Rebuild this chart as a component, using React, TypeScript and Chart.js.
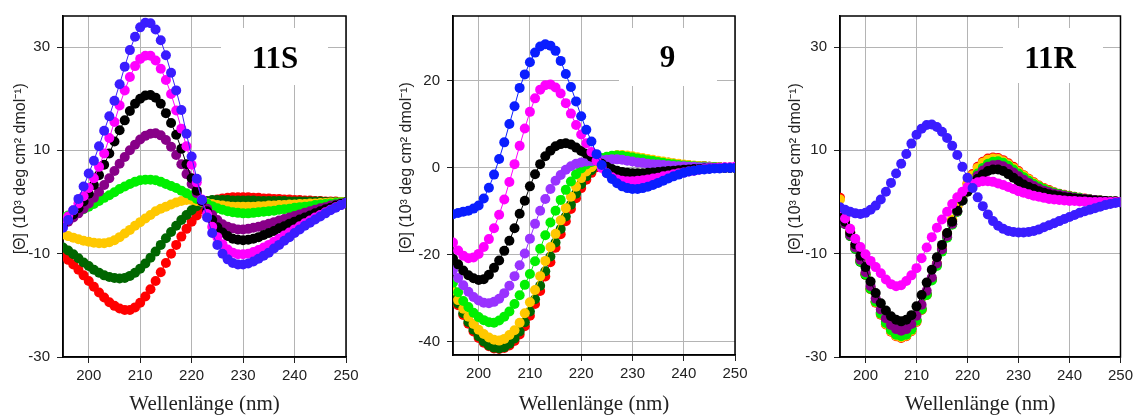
import React, { useEffect, useRef } from "react";
import { Chart, registerables } from "chart.js";

Chart.register(...registerables);

// ---------- data ----------
const wavelengths = [
  195, 196, 197, 198, 199, 200, 201, 202, 203, 204,
  205, 206, 207, 208, 209, 210, 211, 212, 213, 214,
  215, 216, 217, 218, 219, 220, 221, 222, 223, 224,
  225, 226, 227, 228, 229, 230, 231, 232, 233, 234,
  235, 236, 237, 238, 239, 240, 241, 242, 243, 244,
  245, 246, 247, 248, 249, 250,
];

const xTickValues = [200, 210, 220, 230, 240, 250];
const xTickLabels = ["200", "210", "220", "230", "240", "250"];
const yTickValues11S = [-30, -10, 10, 30];
const yTickLabels11S = ["-30", "-10", "10", "30"];
const yTickValues9 = [-40, -20, 0, 20];
const yTickLabels9 = ["-40", "-20", "0", "20"];
const yTickValues11R = [-30, -10, 10, 30];
const yTickLabels11R = ["-30", "-10", "10", "30"];

// Panel 11S
const red11S = [-10.4,-11.2,-12.1,-13.1,-14.2,-15.3,-16.4,-17.5,-18.5,-19.4,
  -20.1,-20.6,-20.9,-20.9,-20.4,-19.5,-18.3,-16.9,-15.3,-13.6,
  -11.8,-10.0,-8.3,-6.7,-5.2,-3.8,-2.6,-1.4,-0.4,0.2,
  0.5,0.7,0.8,0.9,0.9,0.9,0.9,0.8,0.8,0.7,
  0.7,0.6,0.6,0.5,0.5,0.4,0.4,0.3,0.3,0.2,
  0.2,0.1,0.1,0.1,0.0,0.0];
const darkGreen11S = [-8.8,-9.4,-10.1,-10.9,-11.7,-12.4,-13.1,-13.7,-14.2,-14.5,
  -14.7,-14.8,-14.7,-14.3,-13.7,-12.9,-11.9,-10.8,-9.6,-8.3,
  -7.0,-5.8,-4.6,-3.5,-2.5,-1.6,-0.8,-0.1,0.2,0.4,
  0.4,0.4,0.4,0.3,0.3,0.3,0.3,0.3,0.2,0.2,
  0.2,0.2,0.2,0.2,0.1,0.1,0.1,0.1,0.1,0.1,
  0.1,0.0,0.0,0.0,0.0,0.0];
const gold11S = [-6.3,-6.6,-6.9,-7.2,-7.5,-7.7,-7.9,-8.0,-8.0,-7.8,
  -7.4,-6.8,-6.1,-5.4,-4.6,-3.9,-3.2,-2.5,-1.8,-1.3,
  -0.9,-0.5,-0.1,0.2,0.4,0.4,0.2,0.0,-0.2,-0.4,
  -0.6,-0.7,-0.8,-0.9,-0.9,-0.9,-0.9,-0.9,-0.8,-0.8,
  -0.7,-0.7,-0.6,-0.6,-0.5,-0.5,-0.4,-0.4,-0.3,-0.3,
  -0.2,-0.2,-0.1,-0.1,0.0,0.0];
const green11S = [-3.0,-2.6,-2.2,-1.8,-1.4,-0.9,-0.4,0.2,0.8,1.3,
  1.9,2.5,3.0,3.5,3.9,4.2,4.3,4.3,4.2,3.9,
  3.5,3.1,2.7,2.2,1.7,1.2,0.6,0.1,-0.3,-0.8,
  -1.2,-1.5,-1.8,-2.0,-2.1,-2.2,-2.2,-2.1,-2.0,-1.9,
  -1.8,-1.7,-1.5,-1.4,-1.3,-1.1,-1.0,-0.9,-0.8,-0.6,
  -0.5,-0.4,-0.3,-0.2,-0.1,0.0];
const purple11S = [-4.5,-3.8,-3.0,-2.2,-1.3,-0.3,0.8,2.0,3.3,4.6,
  6.0,7.4,8.7,10.0,11.1,12.1,12.8,13.2,13.3,12.9,
  12.0,10.7,9.1,7.3,5.4,3.5,1.7,0.1,-1.3,-2.5,
  -3.5,-4.3,-4.8,-5.1,-5.3,-5.3,-5.2,-5.0,-4.8,-4.5,
  -4.2,-3.9,-3.6,-3.3,-3.0,-2.7,-2.4,-2.1,-1.8,-1.5,
  -1.2,-1.0,-0.7,-0.5,-0.3,-0.1];
const black11S = [-4.4,-3.4,-2.4,-1.2,0.1,1.6,3.3,5.2,7.2,9.4,
  11.7,13.9,15.8,17.6,19.0,20.0,20.6,20.7,20.2,19.0,
  17.2,15.3,13.0,10.3,7.3,4.6,2.2,0.2,-1.8,-3.5,
  -4.9,-5.9,-6.6,-7.1,-7.3,-7.4,-7.3,-7.1,-6.8,-6.4,
  -6.0,-5.6,-5.1,-4.7,-4.2,-3.8,-3.4,-3.0,-2.6,-2.2,
  -1.8,-1.4,-1.1,-0.7,-0.4,-0.1];
const magenta11S = [-3.8,-2.8,-1.6,-0.3,1.1,2.7,4.6,6.8,9.4,12.4,
  15.5,18.7,21.6,24.2,26.3,27.7,28.3,28.3,27.4,25.8,
  23.6,20.9,17.7,14.2,10.8,7.2,3.8,0.5,-2.3,-4.8,
  -6.8,-8.2,-9.2,-9.8,-10.1,-10.1,-10.0,-9.7,-9.3,-8.8,
  -8.3,-7.7,-7.1,-6.5,-5.9,-5.3,-4.7,-4.1,-3.6,-3.0,
  -2.5,-2.0,-1.5,-1.0,-0.6,-0.2];
const blue11S = [-5.0,-3.5,-1.6,0.6,3.0,5.5,8.0,10.8,13.8,16.6,
  19.6,22.8,26.2,29.4,32.0,33.8,34.7,34.6,33.4,31.3,
  28.4,25.0,21.6,17.8,13.2,8.8,4.5,0.4,-3.0,-6.0,
  -8.3,-10.0,-11.1,-11.8,-12.1,-12.1,-11.9,-11.5,-11.0,-10.4,
  -9.8,-9.0,-8.3,-7.5,-6.8,-6.0,-5.3,-4.6,-4.0,-3.4,
  -2.8,-2.2,-1.6,-1.1,-0.6,-0.2];

// Panel 9
const red9 = [-29.3,-31.6,-33.8,-35.8,-37.6,-39.1,-40.2,-41.0,-41.5,-41.6,
  -41.4,-40.8,-39.8,-38.3,-36.4,-34.0,-31.3,-28.3,-25.0,-21.7,
  -18.4,-15.3,-12.3,-9.5,-7.0,-4.7,-2.8,-1.2,0.1,1.0,
  1.7,2.1,2.4,2.5,2.4,2.3,2.1,1.9,1.8,1.6,
  1.4,1.2,1.1,0.9,0.8,0.6,0.5,0.4,0.3,0.3,
  0.2,0.1,0.1,0.0,0.0,0.0];
const darkGreen9 = [-28.9,-31.2,-33.4,-35.4,-37.2,-38.7,-39.9,-40.8,-41.3,-41.5,
  -41.2,-40.4,-39.2,-37.6,-35.5,-33.0,-30.2,-27.1,-23.8,-20.4,
  -17.2,-14.1,-11.2,-8.5,-6.0,-3.8,-2.0,-0.6,0.5,1.3,
  1.9,2.3,2.5,2.5,2.4,2.3,2.1,1.9,1.8,1.6,
  1.4,1.2,1.1,0.9,0.8,0.6,0.5,0.4,0.3,0.3,
  0.2,0.1,0.1,0.0,0.0,0.0];
const gold9 = [-28.2,-30.4,-32.4,-34.2,-35.9,-37.2,-38.2,-39.0,-39.5,-39.7,
  -39.3,-38.4,-37.3,-35.6,-33.4,-30.9,-28.1,-24.9,-21.4,-18.2,
  -15.2,-12.1,-9.3,-6.7,-4.4,-2.4,-0.9,0.1,0.9,1.6,
  2.2,2.6,2.9,2.9,2.8,2.6,2.4,2.2,2.0,1.8,
  1.6,1.4,1.2,1.0,0.9,0.7,0.6,0.5,0.4,0.3,
  0.2,0.1,0.1,0.0,0.0,0.0];
const green9 = [-26.4,-28.6,-30.6,-32.0,-33.3,-34.3,-35.0,-35.5,-35.6,-35.1,
  -34.2,-33.0,-31.3,-29.3,-26.9,-24.4,-21.5,-18.6,-15.5,-12.6,
  -9.9,-7.4,-5.1,-3.2,-1.5,-0.2,0.7,1.3,1.8,2.2,
  2.5,2.7,2.8,2.7,2.5,2.3,2.1,1.9,1.7,1.5,
  1.3,1.1,0.9,0.8,0.6,0.5,0.4,0.3,0.2,0.2,
  0.1,0.1,0.0,0.0,0.0,0.0];
const violet9 = [-23.5,-25.3,-27.0,-28.5,-29.7,-30.5,-31.0,-31.1,-30.8,-30.1,
  -28.8,-27.1,-24.9,-22.4,-19.7,-16.3,-12.9,-9.9,-7.2,-4.9,
  -3.0,-1.7,-0.5,0.3,0.9,1.2,1.4,1.5,1.6,1.7,
  1.8,1.9,1.9,1.8,1.6,1.4,1.2,1.1,0.9,0.8,
  0.7,0.6,0.5,0.4,0.3,0.3,0.2,0.2,0.1,0.1,
  0.1,0.0,0.0,0.0,0.0,0.0];
const black9 = [-20.9,-22.2,-23.6,-24.7,-25.4,-25.8,-25.6,-24.6,-23.0,-21.3,
  -19.1,-16.8,-13.9,-10.6,-7.6,-4.3,-1.5,0.8,2.6,3.9,
  4.9,5.4,5.6,5.3,4.6,3.8,3.2,2.5,1.7,0.9,
  0.2,-0.3,-0.7,-1.0,-1.2,-1.3,-1.3,-1.3,-1.2,-1.1,
  -1.0,-0.9,-0.8,-0.7,-0.6,-0.5,-0.4,-0.3,-0.3,-0.2,
  -0.2,-0.1,-0.1,0.0,0.0,0.0];
const magenta9 = [-17.2,-19.0,-20.2,-20.8,-20.6,-19.8,-18.2,-16.4,-13.9,-10.8,
  -7.3,-3.3,0.8,5.0,9.0,12.8,15.9,17.9,18.9,19.1,
  18.4,17.0,14.8,12.4,9.8,7.6,5.6,3.6,1.6,-0.1,
  -1.3,-2.2,-2.7,-3.0,-3.1,-3.1,-3.0,-2.9,-2.7,-2.5,
  -2.3,-2.0,-1.8,-1.5,-1.3,-1.1,-0.9,-0.7,-0.5,-0.3,
  -0.2,-0.1,0.0,0.1,0.1,0.2];
const blue9 = [-10.7,-10.4,-10.1,-9.9,-9.4,-8.7,-7.1,-4.6,-1.6,2.0,
  5.8,10.0,14.1,18.3,21.4,24.2,26.4,27.8,28.3,28.0,
  26.8,24.5,21.5,18.5,15.2,11.8,8.7,6.0,3.1,0.6,
  -1.3,-2.6,-3.6,-4.3,-4.7,-4.9,-4.9,-4.7,-4.4,-4.0,
  -3.5,-3.0,-2.5,-2.0,-1.6,-1.2,-0.9,-0.7,-0.5,-0.4,
  -0.3,-0.2,-0.2,-0.1,-0.1,-0.1];

// Panel 11R
const red11R = [0.8,-3.0,-5.8,-8.6,-11.3,-14.0,-16.9,-19.5,-21.8,-23.7,
  -25.1,-26.0,-26.3,-26.0,-25.0,-23.2,-20.9,-18.0,-15.0,-12.0,
  -9.0,-6.2,-3.5,-0.9,1.5,3.6,5.4,6.8,7.8,8.4,
  8.6,8.5,8.1,7.5,6.8,6.0,5.2,4.5,3.8,3.2,
  2.7,2.3,1.9,1.6,1.4,1.2,1.0,0.8,0.7,0.5,
  0.4,0.3,0.2,0.1,0.1,0.0];
const gold11R = [0.5,-3.1,-5.9,-8.7,-11.4,-14.1,-16.9,-19.4,-21.7,-23.6,
  -25.0,-25.9,-26.2,-25.9,-24.9,-23.1,-20.8,-17.9,-14.9,-11.9,
  -8.9,-6.1,-3.4,-0.9,1.4,3.5,5.2,6.6,7.6,8.2,
  8.4,8.3,7.9,7.3,6.6,5.8,5.1,4.4,3.7,3.1,
  2.6,2.2,1.8,1.5,1.3,1.1,0.9,0.8,0.6,0.5,
  0.4,0.3,0.2,0.1,0.1,0.0];
const darkGreen11R = [-2.2,-4.3,-6.6,-9.1,-11.6,-14.1,-16.8,-19.2,-21.4,-23.2,
  -24.6,-25.5,-25.8,-25.5,-24.5,-22.8,-20.6,-17.8,-15.0,-12.2,
  -9.4,-6.8,-4.3,-1.9,0.3,2.2,3.9,5.3,6.4,7.1,
  7.5,7.6,7.3,6.8,6.1,5.4,4.7,4.0,3.4,2.9,
  2.4,2.0,1.7,1.5,1.2,1.0,0.9,0.7,0.6,0.5,
  0.4,0.3,0.2,0.1,0.1,0.0];
const green11R = [-2.0,-4.1,-6.5,-9.0,-11.5,-14.0,-16.8,-19.3,-21.6,-23.4,
  -24.8,-25.7,-26.0,-25.7,-24.7,-23.0,-20.8,-18.0,-15.2,-12.4,
  -9.6,-6.9,-4.4,-1.9,0.3,2.3,4.0,5.5,6.6,7.4,
  7.8,7.9,7.6,7.0,6.3,5.5,4.8,4.1,3.5,3.0,
  2.5,2.1,1.8,1.5,1.3,1.1,0.9,0.8,0.6,0.5,
  0.4,0.3,0.2,0.1,0.1,0.0];
const purple11R = [-2.3,-4.2,-6.4,-8.8,-11.2,-13.6,-16.3,-18.7,-20.8,-22.5,
  -23.8,-24.6,-24.9,-24.6,-23.6,-22.0,-19.9,-17.2,-14.6,-11.9,
  -9.2,-6.6,-4.2,-1.8,0.3,2.2,3.8,5.1,6.1,6.8,
  7.1,7.2,6.9,6.4,5.7,5.0,4.3,3.7,3.1,2.6,
  2.2,1.9,1.6,1.4,1.2,1.0,0.8,0.7,0.6,0.5,
  0.4,0.3,0.2,0.1,0.1,0.0];
const black11R = [-2.1,-3.8,-5.9,-8.2,-10.4,-12.6,-15.4,-17.6,-19.6,-21.0,
  -22.1,-22.8,-23.1,-22.8,-21.9,-20.2,-18.0,-15.6,-13.1,-10.7,
  -8.3,-6.0,-3.8,-1.7,0.3,2.0,3.4,4.5,5.3,6.0,
  6.3,6.3,6.0,5.4,4.7,4.0,3.4,2.9,2.5,2.1,
  1.8,1.5,1.3,1.1,0.9,0.8,0.7,0.6,0.5,0.4,
  0.3,0.2,0.2,0.1,0.1,0.0];
const magenta11R = [-1.2,-3.2,-5.2,-7.1,-8.7,-10.1,-11.4,-12.6,-13.8,-15.0,
  -15.9,-16.3,-16.1,-15.3,-14.2,-12.8,-10.9,-8.8,-6.8,-5.0,
  -3.4,-1.9,-0.4,0.9,2.0,2.9,3.5,3.8,4.0,4.0,
  3.9,3.6,3.3,2.9,2.5,2.1,1.8,1.5,1.2,1.0,
  0.8,0.6,0.5,0.4,0.3,0.2,0.2,0.1,0.1,0.0,
  0.0,0.0,0.0,0.0,0.0,0.0];
const blue11R = [-1.0,-1.5,-1.9,-2.2,-2.3,-2.1,-1.5,-0.7,0.5,2.0,
  3.7,5.5,7.4,9.3,11.3,13.0,14.2,14.9,15.0,14.5,
  13.6,12.4,10.9,9.1,6.8,4.7,2.7,0.9,-0.8,-2.4,
  -3.7,-4.6,-5.2,-5.6,-5.8,-5.9,-5.9,-5.8,-5.6,-5.3,
  -4.9,-4.5,-4.1,-3.7,-3.3,-2.9,-2.5,-2.1,-1.8,-1.5,
  -1.2,-0.9,-0.6,-0.4,-0.2,-0.1];

// ---------- styles ----------
const RED = "#ff0000";
const DKGREEN = "#006600";
const GOLD = "#ffc800";
const GREEN = "#00f000";
const PURPLE = "#880088";
const VIOLET = "#9933ff";
const BLACK = "#000000";
const MAGENTA = "#ff00ff";
const BLUE_A = "#3a1cff";
const BLUE_B = "#0a1eff";

const Y_TITLE = "        [Θ] (10³ deg cm² dmol⁻¹)";
const X_TITLE = "Wellenlänge (nm)";

type SeriesDef = { color: string; values: number[] };
type PanelDef = {
  name: string;
  left: number;
  width: number;
  padLeft: number;
  yAxisWidth: number;
  padRight: number;
  padTop: number;
  xAxisHeight: number;
  yMin: number;
  yMax: number;
  yTickValues: number[];
  yTickLabels: string[];
  box: { x: number; y: number; w: number; h: number; tx: number; ty: number };
  series: SeriesDef[]; // first = drawn on top
};

const panels: PanelDef[] = [
  {
    name: "11S",
    left: 0,
    width: 380,
    padLeft: 10.5,
    yAxisWidth: 52.5,
    padRight: 34,
    padTop: 13,
    xAxisHeight: 60,
    yMin: -30,
    yMax: 36,
    yTickValues: yTickValues11S,
    yTickLabels: yTickLabels11S,
    box: { x: 158, y: 12, w: 107, h: 57, tx: 212, ty: 52 },
    series: [
      { color: BLUE_A, values: blue11S },
      { color: MAGENTA, values: magenta11S },
      { color: BLACK, values: black11S },
      { color: PURPLE, values: purple11S },
      { color: GREEN, values: green11S },
      { color: GOLD, values: gold11S },
      { color: DKGREEN, values: darkGreen11S },
      { color: RED, values: red11S },
    ],
  },
  {
    name: "9",
    left: 380,
    width: 380,
    padLeft: 17,
    yAxisWidth: 56,
    padRight: 25,
    padTop: 11,
    xAxisHeight: 62,
    yMin: -43,
    yMax: 34.8,
    yTickValues: yTickValues9,
    yTickLabels: yTickLabels9,
    box: { x: 166, y: 12, w: 98, h: 58, tx: 214.5, ty: 51 },
    series: [
      { color: BLUE_B, values: blue9 },
      { color: MAGENTA, values: magenta9 },
      { color: BLACK, values: black9 },
      { color: VIOLET, values: violet9 },
      { color: GREEN, values: green9 },
      { color: GOLD, values: gold9 },
      { color: DKGREEN, values: darkGreen9 },
      { color: RED, values: red9 },
    ],
  },
  {
    name: "11R",
    left: 760,
    width: 377,
    padLeft: 26,
    yAxisWidth: 54,
    padRight: 14,
    padTop: 13,
    xAxisHeight: 60,
    yMin: -30,
    yMax: 36,
    yTickValues: yTickValues11R,
    yTickLabels: yTickLabels11R,
    box: { x: 163, y: 12, w: 100, h: 55, tx: 210, ty: 52 },
    series: [
      { color: BLUE_A, values: blue11R },
      { color: MAGENTA, values: magenta11R },
      { color: BLACK, values: black11R },
      { color: PURPLE, values: purple11R },
      { color: GREEN, values: green11R },
      { color: DKGREEN, values: darkGreen11R },
      { color: GOLD, values: gold11R },
      { color: RED, values: red11R },
    ],
  },
];

const SANS = '"Liberation Sans", Arial, Helvetica, sans-serif';
const SERIF = '"Liberation Serif", "Times New Roman", serif';

const frameAndLabel = {
  id: "frameAndLabel",
  beforeDatasetsDraw(chart: any, _args: any, opts: any) {
    const { ctx, chartArea: a } = chart;
    const b = opts.box;
    ctx.save();
    ctx.fillStyle = "#ffffff";
    ctx.fillRect(a.left + b.x, a.top + b.y, b.w, b.h);
    ctx.fillStyle = "#000000";
    ctx.font = `bold 31px ${SERIF}`;
    ctx.textAlign = "center";
    ctx.textBaseline = "alphabetic";
    ctx.fillText(opts.text, a.left + b.tx, a.top + b.ty);
    ctx.strokeStyle = "#000000";
    ctx.lineWidth = 1.5;
    ctx.strokeRect(a.left, a.top, a.right - a.left, a.bottom - a.top);
    ctx.restore();
  },
};

function Panel({ p }: { p: PanelDef }) {
  const ref = useRef<HTMLCanvasElement>(null);
  useEffect(() => {
    const datasets = p.series.map((s) => ({
      data: wavelengths.map((x, i) => ({ x, y: s.values[i] })),
      borderColor: s.color,
      backgroundColor: s.color,
      pointBackgroundColor: s.color,
      pointBorderWidth: 0,
      pointRadius: 5,
      borderWidth: 1,
      tension: 0,
    }));
    const chart = new Chart(ref.current as HTMLCanvasElement, {
      type: "line",
      data: { datasets },
      plugins: [frameAndLabel],
      options: {
        responsive: false,
        animation: false,
        devicePixelRatio: 1,
        events: [],
        layout: { padding: { left: p.padLeft, right: p.padRight, top: p.padTop, bottom: 0 } },
        plugins: {
          legend: { display: false },
          tooltip: { enabled: false },
          frameAndLabel: { box: p.box, text: p.name },
        } as any,
        scales: {
          x: {
            type: "linear",
            min: 195,
            max: 250,
            afterBuildTicks: (scale: any) => {
              scale.ticks = xTickValues.map((v) => ({ value: v }));
            },
            afterFit: (scale: any) => {
              scale.height = p.xAxisHeight;
            },
            ticks: {
              autoSkip: false,
              maxRotation: 0,
              padding: 4,
              color: "#222",
              font: { family: SANS, size: 15 },
              callback: (_v: any, i: number) => xTickLabels[i],
            },
            grid: { color: "#b4b4b4", lineWidth: 1, tickLength: 6, tickColor: "#222" },
            border: { color: "#000", width: 1.5 },
            title: {
              display: true,
              text: X_TITLE,
              color: "#222",
              font: { family: SERIF, size: 21 },
              padding: { top: 0, bottom: 0 },
            },
          },
          y: {
            type: "linear",
            min: p.yMin,
            max: p.yMax,
            afterBuildTicks: (scale: any) => {
              scale.ticks = p.yTickValues.map((v) => ({ value: v }));
            },
            afterFit: (scale: any) => {
              scale.width = p.yAxisWidth;
            },
            ticks: {
              autoSkip: false,
              padding: 7,
              color: "#222",
              font: { family: SANS, size: 15 },
              callback: (_v: any, i: number) => p.yTickLabels[i],
            },
            grid: { color: "#b4b4b4", lineWidth: 1, tickLength: 6, tickColor: "#222" },
            border: { color: "#000", width: 1.5 },
            title: {
              display: true,
              text: Y_TITLE,
              color: "#222",
              font: { family: SANS, size: 16 },
              padding: { top: 0, bottom: 0 },
            },
          },
        },
      } as any,
    });
    return () => chart.destroy();
  }, [p]);
  return (
    <div style={{ position: "absolute", left: p.left, top: 0, width: p.width, height: 417 }}>
      <canvas ref={ref} width={p.width} height={417} style={{ display: "block" }} />
    </div>
  );
}

export default function App() {
  return (
    <div
      style={{
        position: "fixed",
        left: 0,
        top: 0,
        width: 1137,
        height: 417,
        background: "#ffffff",
        overflow: "hidden",
      }}
    >
      {panels.map((p) => (
        <Panel key={p.name} p={p} />
      ))}
    </div>
  );
}
